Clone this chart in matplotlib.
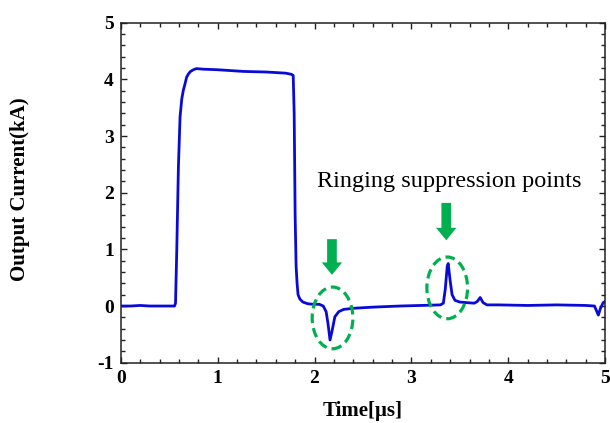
import matplotlib
matplotlib.use("Agg")
import matplotlib.pyplot as plt
from matplotlib.patches import Ellipse, FancyArrow
from matplotlib.ticker import MultipleLocator

plt.rcParams["axes.unicode_minus"] = False

# Data (time in us, current in kA)
time_us = [0.00, 0.10, 0.20, 0.30, 0.40, 0.50, 0.555, 0.565, 0.578, 0.595, 0.612,
           0.630, 0.646, 0.66, 0.68, 0.70, 0.72, 0.75, 0.78, 0.85, 1.00, 1.27,
           1.50, 1.70, 1.76, 1.78, 1.79, 1.80, 1.81, 1.82, 1.83, 1.85, 1.88,
           1.93, 1.99, 2.05, 2.09, 2.12, 2.14, 2.16, 2.18, 2.21, 2.25, 2.30,
           2.40, 2.60, 2.88, 3.10, 3.30, 3.33, 3.35, 3.37, 3.38, 3.40, 3.42,
           3.45, 3.50, 3.57, 3.65, 3.68, 3.71, 3.74, 3.78, 3.90, 4.20, 4.50,
           4.80, 4.89, 4.91, 4.93, 4.95, 4.98, 5.00]
current_ka = [0.00, 0.00, 0.01, 0.00, 0.00, 0.00, 0.00, 0.05, 0.99, 2.46, 3.34,
              3.66, 3.81, 3.90, 4.04, 4.10, 4.14, 4.17, 4.19, 4.18, 4.17, 4.14,
              4.13, 4.11, 4.09, 4.07, 3.40, 1.60, 0.70, 0.40, 0.20, 0.12, 0.07,
              0.04, 0.03, 0.03, 0.00, -0.10, -0.32, -0.60, -0.45, -0.19, -0.10, -0.06,
              -0.04, -0.02, 0.00, 0.01, 0.02, 0.05, 0.30, 0.70, 0.75, 0.45, 0.20,
              0.10, 0.07, 0.06, 0.05, 0.08, 0.15, 0.06, 0.02, 0.02, 0.01, 0.02,
              0.01, 0.00, -0.08, -0.16, -0.05, 0.06, 0.08]

x_ticks = [0, 1, 2, 3, 4, 5]
y_ticks = [-1, 0, 1, 2, 3, 4, 5]
annotation = "Ringing suppression points"

# Highlighted points: (center x, center y)
marks = [(2.186, -0.21), (3.37, 0.32)]
arrow_x = [2.18, 3.36]
arrow_top = [1.18, 1.82]
arrow_tip = [0.55, 1.16]

green = "#00b050"
blue = "#0a0ad8"
serif = ["Liberation Serif", "DejaVu Serif"]

fig = plt.figure(figsize=(6.10, 4.23), dpi=100)
ax = fig.add_axes([0.198, 0.1426, 0.794, 0.8037])

ax.plot(time_us, current_ka, color=blue, lw=2.0, solid_joinstyle="round")

ax.set_xlim(0, 5)
ax.set_ylim(-1, 5)
ax.set_xticks(x_ticks)
ax.set_yticks(y_ticks)
ax.xaxis.set_minor_locator(MultipleLocator(0.2))
ax.yaxis.set_minor_locator(MultipleLocator(0.2))
ax.tick_params(which="both", direction="in", top=True, right=True, width=1.0,
               colors="#222222")
ax.tick_params(which="major", length=4.5, pad=5)
ax.tick_params(which="minor", length=3)
for lbl in ax.get_xticklabels() + ax.get_yticklabels():
    lbl.set_fontfamily(serif)
    lbl.set_fontweight("bold")
    lbl.set_fontsize(14)
    lbl.set_color("black")
for sp in ax.spines.values():
    sp.set_linewidth(1.1)
    sp.set_color("#222222")

ax.set_xlabel("Time[μs]", family=serif, fontweight="bold", fontsize=15, labelpad=10)
ax.set_ylabel("Output Current(kA)", family=serif, fontweight="bold", fontsize=15,
              labelpad=0)
ax.yaxis.set_label_coords(-0.188, 0.51)

ax.text(2.026, 2.10, annotation, family=serif, fontsize=17.5, va="baseline",
        ha="left")

for (cx, cy) in marks:
    ax.add_patch(Ellipse((cx, cy), 0.42, 1.09, fill=False, edgecolor=green,
                         lw=2.3, linestyle=(0, (3, 1.6)), zorder=3))

for xa, yt, yb in zip(arrow_x, arrow_top, arrow_tip):
    ax.add_patch(FancyArrow(xa, yt, 0, yb - yt, width=0.10, head_width=0.21,
                            head_length=0.22, length_includes_head=True,
                            color=green, lw=0, zorder=4))

fig.savefig("out.png", dpi=100)
